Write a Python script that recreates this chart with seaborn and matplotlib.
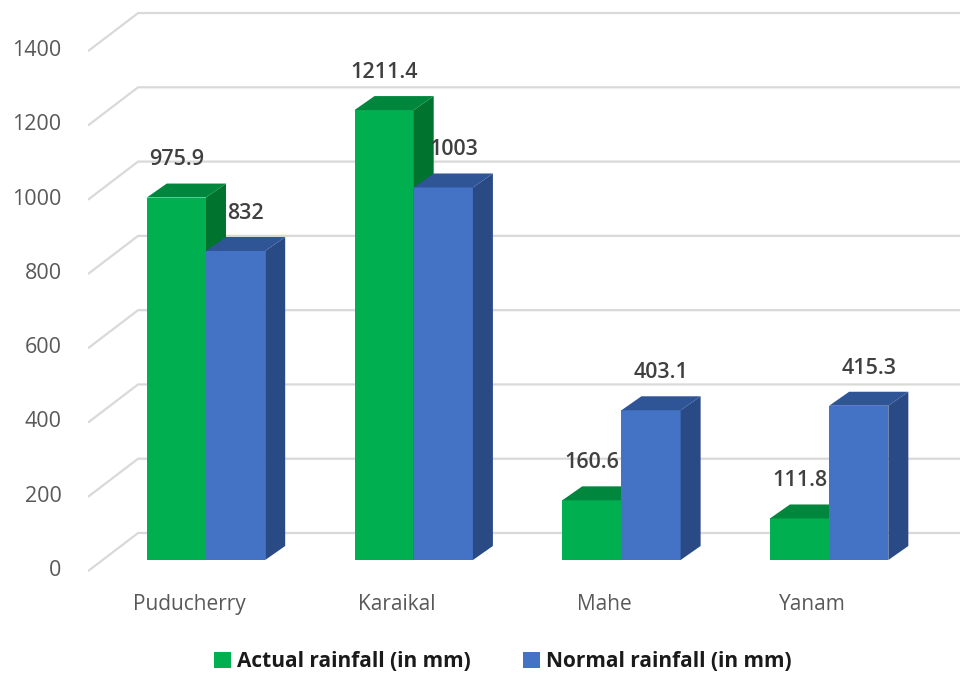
import matplotlib
matplotlib.use('Agg')
import matplotlib.pyplot as plt
import matplotlib.transforms as mtransforms
from matplotlib.patches import Polygon, Patch
import seaborn as sns
import pandas as pd

# data
districts = ['Puducherry', 'Karaikal', 'Mahe', 'Yanam']
actual = [975.9, 1211.4, 160.6, 111.8]
normal = [832, 1003, 403.1, 415.3]
series = ['Actual rainfall (in mm)', 'Normal rainfall (in mm)']
yticks = [0, 200, 400, 600, 800, 1000, 1200, 1400]

front_colors = ['#00b050', '#4472c4']
top_colors = ['#00873d', '#2f5597']
side_colors = ['#00742f', '#2a4a86']

df = pd.DataFrame({
    'District': districts * 2,
    'Rainfall': actual + normal,
    'Type': [series[0]] * len(actual) + [series[1]] * len(normal),
})

sns.set_theme(style='white')
plt.rcParams['font.family'] = ['Open Sans', 'DejaVu Sans']

fig = plt.figure(figsize=(9.6, 6.8), dpi=100)
ax = fig.add_axes([88 / 960, 90 / 680, 872 / 960, 590 / 680])

sns.barplot(data=df, x='District', y='Rainfall', hue='Type', palette=front_colors,
            width=0.57, ax=ax, legend=False, saturation=1)

ax.set_xlim(-0.568, 3.630)
ax.set_ylim(-80.8, 1507.8)
for s in ax.spines.values():
    s.set_visible(False)
ax.set_xlabel('')
ax.set_ylabel('')

# perspective depth of the 3D look, in data units
dx, dy = 0.0963, 37.7
wall_x0, wall_x1 = -0.568, -0.327
wall_lo, wall_hi = 30, 72.7

# back wall gridlines
for v in yticks:
    ax.plot([wall_x0, wall_x1, 3.7], [v - wall_lo, v + wall_hi, v + wall_hi],
            color='#d9d9d9', lw=1.6, zorder=1, solid_capstyle='butt')

# 3D faces on each bar
label_shift = [0, dx / 2]
for i, cont in enumerate(ax.containers):
    for bar in cont:
        x0 = bar.get_x()
        w = bar.get_width()
        h = bar.get_height()
        bar.set_zorder(2 + i)
        bar.set_edgecolor('none')
        side = Polygon([(x0 + w, 0), (x0 + w + dx, dy), (x0 + w + dx, h + dy), (x0 + w, h)],
                       closed=True, facecolor=side_colors[i], edgecolor='none', zorder=2.1 + i)
        top = Polygon([(x0, h), (x0 + dx, h + dy), (x0 + w + dx, h + dy), (x0 + w, h)],
                      closed=True, facecolor=top_colors[i], edgecolor='none', zorder=2.1 + i)
        ax.add_patch(side)
        ax.add_patch(top)
        ax.annotate(f'{h:g}', xy=(x0 + w / 2 + label_shift[i], h + dy), xytext=(0, 17),
                    textcoords='offset points', ha='center', va='center',
                    fontsize=15.5, fontweight='semibold', color='#404040', zorder=5)

ax.set_yticks(yticks)
ax.set_yticklabels([str(v) for v in yticks])
ax.tick_params(axis='y', length=0, pad=19, labelsize=15.5, labelcolor='#595959')
ax.tick_params(axis='x', length=0, pad=3, labelsize=15, labelcolor='#595959')

down = mtransforms.ScaledTranslation(0, -0.08, fig.dpi_scale_trans)
for lab in ax.get_yticklabels():
    lab.set_transform(lab.get_transform() + down)
left = mtransforms.ScaledTranslation(-0.17, 0, fig.dpi_scale_trans)
for lab in ax.get_xticklabels():
    lab.set_transform(lab.get_transform() + left)

handles = [Patch(facecolor=c, edgecolor='none') for c in front_colors]
fig.legend(handles, series, loc='center', bbox_to_anchor=(0.524, 0.027), ncol=2,
           frameon=False, handlelength=0.8, handleheight=0.8, handletextpad=0.3,
           columnspacing=2.5, prop={'size': 15, 'weight': 'bold'}, labelcolor='#1a1a1a')

fig.savefig('out.png', dpi=100)
